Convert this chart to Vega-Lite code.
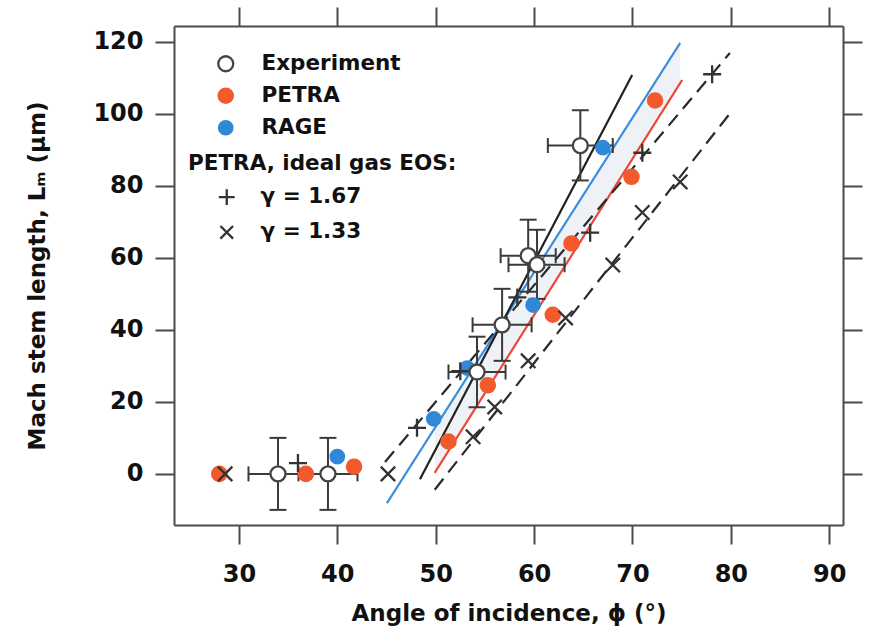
{
  "$schema": "https://vega.github.io/schema/vega-lite/v6.json",
  "width": 669,
  "height": 499,
  "autosize": {"type": "none"},
  "padding": {"left": 174, "top": 26, "right": 26, "bottom": 104},
  "background": "white",
  "datasets": {
    "band": [
      {"x": 49.9, "lo": 0.3, "hi": 12.7},
      {"x": 74.85, "lo": 108.3, "hi": 119.7}
    ],
    "lines": [
      {"line": "RAGE fit", "x": 45.05, "y": -8.1},
      {"line": "RAGE fit", "x": 74.85, "y": 119.7},
      {"line": "PETRA fit", "x": 49.9, "y": 0.3},
      {"line": "PETRA fit", "x": 75.05, "y": 109.4},
      {"line": "Experiment fit", "x": 48.4, "y": -1.5},
      {"line": "Experiment fit", "x": 69.97, "y": 110.8},
      {"line": "γ = 1.67 fit", "x": 44.85, "y": 3.3},
      {"line": "γ = 1.67 fit", "x": 79.9, "y": 116.9},
      {"line": "γ = 1.33 fit", "x": 49.9, "y": -4.4},
      {"line": "γ = 1.33 fit", "x": 80.1, "y": 100.8}
    ],
    "exp": [
      {"x": 33.97, "y": 0, "xlo": 30.97, "xhi": 36.97, "ylo": -10, "yhi": 10},
      {"x": 39.05, "y": 0, "xlo": 36.05, "xhi": 42.05, "ylo": -10, "yhi": 10},
      {"x": 54.2, "y": 28.3, "xlo": 51.3, "xhi": 57.1, "ylo": 18.5, "yhi": 38.1},
      {"x": 56.75, "y": 41.4, "xlo": 53.75, "xhi": 59.75, "ylo": 31.4, "yhi": 51.4},
      {"x": 59.4, "y": 60.6, "xlo": 56.6, "xhi": 62.2, "ylo": 50.6, "yhi": 70.6},
      {"x": 60.3, "y": 58.1, "xlo": 57.4, "xhi": 63.1, "ylo": 48.6, "yhi": 67.8},
      {"x": 64.7, "y": 91.2, "xlo": 61.4, "xhi": 68.0, "ylo": 81.5, "yhi": 101.0}
    ],
    "ideal": [
      {"series": "γ = 1.67", "x": 36.0, "y": 3},
      {"series": "γ = 1.67", "x": 48.1, "y": 12.8},
      {"series": "γ = 1.67", "x": 52.5, "y": 28.5},
      {"series": "γ = 1.67", "x": 58.3, "y": 49},
      {"series": "γ = 1.67", "x": 65.7, "y": 67},
      {"series": "γ = 1.67", "x": 71.0, "y": 89.2},
      {"series": "γ = 1.67", "x": 78.1, "y": 111},
      {"series": "γ = 1.33", "x": 28.6, "y": 0},
      {"series": "γ = 1.33", "x": 45.15, "y": 0},
      {"series": "γ = 1.33", "x": 53.8, "y": 10.3},
      {"series": "γ = 1.33", "x": 56.0, "y": 18.6},
      {"series": "γ = 1.33", "x": 59.4, "y": 31.4},
      {"series": "γ = 1.33", "x": 63.2, "y": 43.3},
      {"series": "γ = 1.33", "x": 68.0, "y": 58},
      {"series": "γ = 1.33", "x": 71.0, "y": 72.6},
      {"series": "γ = 1.33", "x": 74.85, "y": 81.1}
    ],
    "model": [
      {"series": "PETRA", "x": 28.0, "y": 0},
      {"series": "PETRA", "x": 36.8, "y": 0},
      {"series": "PETRA", "x": 41.7, "y": 2},
      {"series": "PETRA", "x": 51.3, "y": 9},
      {"series": "PETRA", "x": 55.3, "y": 24.6},
      {"series": "PETRA", "x": 61.9, "y": 44.2},
      {"series": "PETRA", "x": 63.8, "y": 64},
      {"series": "PETRA", "x": 69.9, "y": 82.5},
      {"series": "PETRA", "x": 72.3, "y": 103.7},
      {"series": "RAGE", "x": 40.0, "y": 4.8},
      {"series": "RAGE", "x": 49.8, "y": 15.3},
      {"series": "RAGE", "x": 53.2, "y": 29.4},
      {"series": "RAGE", "x": 59.9, "y": 46.9},
      {"series": "RAGE", "x": 67.0, "y": 90.6},
      {"series": "Experiment", "x": 33.97, "y": 0},
      {"series": "Experiment", "x": 39.05, "y": 0},
      {"series": "Experiment", "x": 54.2, "y": 28.3},
      {"series": "Experiment", "x": 56.75, "y": 41.4},
      {"series": "Experiment", "x": 59.4, "y": 60.6},
      {"series": "Experiment", "x": 60.3, "y": 58.1},
      {"series": "Experiment", "x": 64.7, "y": 91.2}
    ]
  },
  "config": {
    "view": {"stroke": null},
    "axis": {
      "labelFont": "DejaVu Sans",
      "labelFontWeight": "bold",
      "labelFontSize": 24,
      "labelColor": "#111111",
      "titleFont": "DejaVu Sans",
      "titleFontWeight": "bold",
      "titleFontSize": 23,
      "titleColor": "#111111",
      "tickColor": "#4a4a4a",
      "tickWidth": 2,
      "tickSize": 19,
      "domainColor": "#4a4a4a",
      "domainWidth": 2,
      "grid": false
    },
    "axisX": {"labelPadding": 18},
    "axisY": {"labelPadding": 12},
    "legend": {
      "orient": "none",
      "padding": 0,
      "labelFont": "DejaVu Sans",
      "labelFontWeight": "bold",
      "labelFontSize": 21.5,
      "labelColor": "#111111",
      "labelLimit": 500,
      "titleFont": "DejaVu Sans",
      "titleFontWeight": "bold",
      "titleFontSize": 21.5,
      "titleColor": "#111111",
      "titleLimit": 500,
      "symbolStrokeWidth": 2.3
    }
  },
  "layer": [
    {
      "data": {"name": "band"},
      "mark": {"type": "area", "color": "#eef2f7", "opacity": 1},
      "encoding": {
        "x": {
          "field": "x", "type": "quantitative",
          "scale": {"domain": [23.4, 91.4], "nice": false, "zero": false},
          "axis": {"orient": "top", "labels": false, "title": null, "values": [30, 40, 50, 60, 70, 80, 90]}
        },
        "y": {
          "field": "lo", "type": "quantitative",
          "scale": {"domain": [-14.2, 124.4], "nice": false, "zero": false},
          "axis": {"orient": "right", "labels": false, "title": null, "values": [0, 20, 40, 60, 80, 100, 120]}
        },
        "y2": {"field": "hi"}
      }
    },
    {
      "layer": [
        {
          "data": {"name": "lines"},
          "mark": {"type": "line", "strokeWidth": 2.2},
          "encoding": {
            "x": {
              "field": "x", "type": "quantitative",
              "scale": {"domain": [23.4, 91.4], "nice": false, "zero": false},
              "axis": {"orient": "bottom", "title": "Angle of incidence, ϕ (°)", "values": [30, 40, 50, 60, 70, 80, 90], "titleY": 95, "titleBaseline": "alphabetic"}
            },
            "y": {
              "field": "y", "type": "quantitative",
              "scale": {"domain": [-14.2, 124.4], "nice": false, "zero": false},
              "axis": {"orient": "left", "title": "Mach stem length, Lₘ (μm)", "values": [0, 20, 40, 60, 80, 100, 120], "titleX": -129.5, "titleY": 249.5, "titleAngle": 270, "titleAlign": "center", "titleBaseline": "alphabetic"}
            },
            "detail": {"field": "line"},
            "color": {
              "field": "line", "type": "nominal",
              "scale": {"domain": ["RAGE fit", "PETRA fit", "Experiment fit", "γ = 1.67 fit", "γ = 1.33 fit"], "range": ["#3a8edb", "#ee4638", "#222222", "#2a2a2a", "#2a2a2a"]},
              "legend": null
            },
            "strokeDash": {
              "field": "line", "type": "nominal",
              "scale": {"domain": ["RAGE fit", "PETRA fit", "Experiment fit", "γ = 1.67 fit", "γ = 1.33 fit"], "range": [[1, 0], [1, 0], [1, 0], [14, 8], [14, 8]]},
              "legend": null
            }
          }
        },
        {
          "data": {"name": "exp"},
          "mark": {"type": "rule", "color": "#3a3a3a", "strokeWidth": 2},
          "encoding": {
            "x": {"field": "xlo", "type": "quantitative"},
            "x2": {"field": "xhi"},
            "y": {"field": "y", "type": "quantitative"}
          }
        },
        {
          "data": {"name": "exp"},
          "mark": {"type": "rule", "color": "#3a3a3a", "strokeWidth": 2},
          "encoding": {
            "x": {"field": "x", "type": "quantitative"},
            "y": {"field": "ylo", "type": "quantitative"},
            "y2": {"field": "yhi"}
          }
        },
        {
          "data": {"name": "exp"},
          "mark": {"type": "tick", "orient": "vertical", "size": 15, "thickness": 2, "color": "#3a3a3a", "opacity": 1},
          "encoding": {
            "x": {"field": "xlo", "type": "quantitative"},
            "y": {"field": "y", "type": "quantitative"}
          }
        },
        {
          "data": {"name": "exp"},
          "mark": {"type": "tick", "orient": "vertical", "size": 15, "thickness": 2, "color": "#3a3a3a", "opacity": 1},
          "encoding": {
            "x": {"field": "xhi", "type": "quantitative"},
            "y": {"field": "y", "type": "quantitative"}
          }
        },
        {
          "data": {"name": "exp"},
          "mark": {"type": "tick", "orient": "horizontal", "size": 17, "thickness": 2, "color": "#3a3a3a", "opacity": 1},
          "encoding": {
            "x": {"field": "x", "type": "quantitative"},
            "y": {"field": "ylo", "type": "quantitative"}
          }
        },
        {
          "data": {"name": "exp"},
          "mark": {"type": "tick", "orient": "horizontal", "size": 17, "thickness": 2, "color": "#3a3a3a", "opacity": 1},
          "encoding": {
            "x": {"field": "x", "type": "quantitative"},
            "y": {"field": "yhi", "type": "quantitative"}
          }
        },
        {
          "data": {"name": "model"},
          "transform": [{"filter": "datum.series !== 'Experiment'"}],
          "mark": {"type": "point", "opacity": 1, "strokeWidth": 2.3, "shape": "circle"},
          "encoding": {
            "x": {"field": "x", "type": "quantitative"},
            "y": {"field": "y", "type": "quantitative"},
            "fill": {
              "field": "series", "type": "nominal",
              "scale": {"domain": ["Experiment", "PETRA", "RAGE"], "range": ["#ffffff", "#f25a2c", "#2f89d8"]},
              "legend": {"title": null, "legendX": 41, "legendY": 27, "rowPadding": 8, "labelOffset": 25}
            },
            "stroke": {
              "field": "series", "type": "nominal",
              "scale": {"domain": ["Experiment", "PETRA", "RAGE"], "range": ["#444444", "#f25a2c", "#2f89d8"]},
              "legend": {"title": null, "legendX": 41, "legendY": 27, "rowPadding": 8, "labelOffset": 25}
            },
            "size": {
              "field": "series", "type": "nominal",
              "scale": {"domain": ["Experiment", "PETRA", "RAGE"], "range": [225, 180, 180]},
              "legend": {"title": null, "legendX": 41, "legendY": 27, "rowPadding": 8, "labelOffset": 25}
            }
          }
        },
        {
          "data": {"name": "ideal"},
          "mark": {"type": "point", "opacity": 1, "strokeWidth": 2.3, "filled": false, "color": "#333333", "size": 324},
          "encoding": {
            "x": {"field": "x", "type": "quantitative"},
            "y": {"field": "y", "type": "quantitative"},
            "shape": {
              "field": "series", "type": "nominal",
              "scale": {
                "domain": ["γ = 1.67", "γ = 1.33"],
                "range": ["M-1,0L1,0M0,-1L0,1", "M-0.8,-0.8L0.8,0.8M0.8,-0.8L-0.8,0.8"]
              },
              "legend": {
                "title": "PETRA, ideal gas EOS:",
                "legendX": 14,
                "legendY": 126.8,
                "titlePadding": 12,
                "rowPadding": 10.3,
                "symbolSize": 250,
                "symbolOffset": 28,
                "labelOffset": 23,
                "symbolStrokeColor": "#333333",
                "symbolFillColor": "transparent"
              }
            }
          }
        },
        {
          "data": {"name": "model"},
          "transform": [{"filter": "datum.series === 'Experiment'"}],
          "mark": {"type": "point", "opacity": 1, "strokeWidth": 2.3, "shape": "circle"},
          "encoding": {
            "x": {"field": "x", "type": "quantitative"},
            "y": {"field": "y", "type": "quantitative"},
            "fill": {
              "field": "series", "type": "nominal",
              "scale": {"domain": ["Experiment", "PETRA", "RAGE"], "range": ["#ffffff", "#f25a2c", "#2f89d8"]},
              "legend": {"title": null, "legendX": 41, "legendY": 27, "rowPadding": 8, "labelOffset": 25}
            },
            "stroke": {
              "field": "series", "type": "nominal",
              "scale": {"domain": ["Experiment", "PETRA", "RAGE"], "range": ["#444444", "#f25a2c", "#2f89d8"]},
              "legend": {"title": null, "legendX": 41, "legendY": 27, "rowPadding": 8, "labelOffset": 25}
            },
            "size": {
              "field": "series", "type": "nominal",
              "scale": {"domain": ["Experiment", "PETRA", "RAGE"], "range": [225, 180, 180]},
              "legend": {"title": null, "legendX": 41, "legendY": 27, "rowPadding": 8, "labelOffset": 25}
            }
          }
        }
      ]
    }
  ],
  "resolve": {"axis": {"x": "independent", "y": "independent"}}
}
